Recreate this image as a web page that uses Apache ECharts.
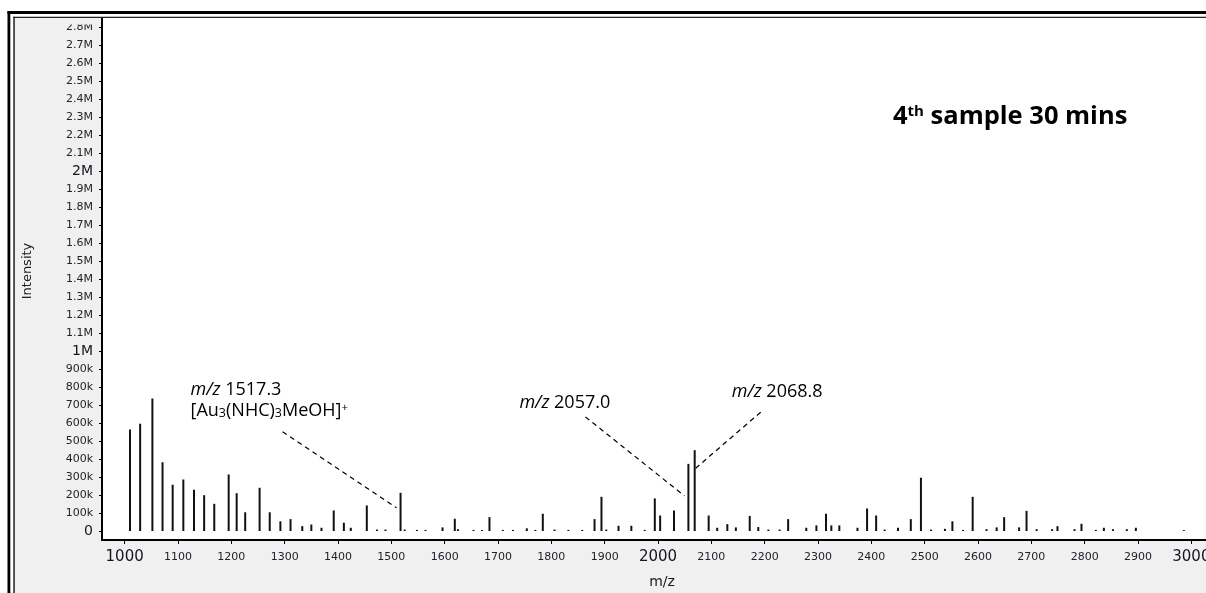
<!DOCTYPE html>
<html>
<head>
<meta charset="utf-8">
<script src="https://cdn.jsdelivr.net/npm/echarts@6/dist/echarts.min.js"></script>
<style>
  html, body { margin: 0; padding: 0; background: #ffffff; }
  #chart { width: 1206px; height: 593px; }
</style>
</head>
<body>
<div id="chart"></div>
<script>
// Centroided peaks of the spectrum: m/z and intensity (counts)
const peakMz = [
  1010, 1029, 1052, 1071, 1090, 1110, 1130, 1149, 1168, 1195,
  1210, 1226, 1253, 1272, 1292, 1311, 1333, 1350, 1369, 1392,
  1411, 1424, 1454, 1473, 1489, 1517.3, 1525, 1548, 1564, 1596,
  1619, 1625, 1654, 1670, 1684, 1709, 1728, 1754, 1770, 1784,
  1806, 1832, 1858, 1881, 1894, 1903, 1926, 1950, 1975, 1994,
  2004, 2030, 2057.0, 2068.8, 2095, 2111, 2130, 2146, 2172, 2188,
  2207, 2228, 2244, 2278, 2297, 2315, 2325, 2340, 2374, 2392,
  2409, 2425, 2450, 2474, 2493, 2512, 2538, 2552, 2572, 2590,
  2616, 2635, 2649, 2677, 2691, 2710, 2739, 2749, 2781, 2794,
  2821, 2836, 2853, 2879, 2896, 2986
];
const peakIntensity = [
  564000, 596000, 736000, 382000, 257000, 286000, 229000, 199000, 151000, 314000,
  210000, 104000, 240000, 104000, 54000, 66000, 27000, 36000, 18000, 114000,
  46000, 18000, 142000, 8000, 8000, 212000, 8000, 6000, 6000, 20000,
  68000, 10000, 6000, 6000, 77000, 6000, 6000, 15000, 6000, 96000,
  8000, 6000, 6000, 66000, 190000, 8000, 29000, 29000, 6000, 181000,
  86000, 114000, 373000, 449000, 86000, 18000, 38000, 20000, 84000, 22000,
  8000, 8000, 66000, 18000, 31000, 96000, 31000, 31000, 18000, 125000,
  86000, 8000, 18000, 66000, 296000, 8000, 12000, 54000, 6000, 190000,
  10000, 20000, 77000, 20000, 112000, 10000, 10000, 27000, 10000, 40000,
  6000, 18000, 10000, 10000, 18000, 5000
];

// Axis ticks
const mzTicks = [1000, 1100, 1200, 1300, 1400, 1500, 1600, 1700, 1800, 1900,
  2000, 2100, 2200, 2300, 2400, 2500, 2600, 2700, 2800, 2900, 3000];
const intensityTicks = [];
for (let i = 0; i <= 28; i++) intensityTicks.push(i * 100000);

// Annotated peaks
const annotatedMz = [1517.3, 2057.0, 2068.8];
const annotatedIon = ['[Au3(NHC)3MeOH]+', '', ''];

const chart = echarts.init(document.getElementById('chart'), null, { renderer: 'canvas' });

const LABEL_FONT = 'DejaVu Sans';
const NOTE_FONT = 'Open Sans';

function mzLabel(v) {
  return (v % 1000 === 0) ? '{big|' + v + '}' : '{small|' + v + '}';
}
function intensityLabel(v) {
  if (v === 0) return '{big|0}';
  if (v % 1000000 === 0) return '{big|' + (v / 1000000) + 'M}';
  if (v >= 1000000) return '{small|' + (v / 1000000).toFixed(1) + 'M}';
  return '{small|' + (v / 1000) + 'k}';
}

const option = {
  backgroundColor: '#f0f0f0',
  animation: false,
  grid: {
    left: 102, right: 0, top: 18, bottom: 53,
    outerBoundsMode: 'none', containLabel: false,
    show: true, backgroundColor: '#ffffff', borderWidth: 0
  },
  xAxis: {
    type: 'value',
    min: 957.5, max: 3027.5,
    axisLine: { show: true, onZero: false, lineStyle: { color: '#000', width: 2 } },
    axisTick: { show: true, customValues: mzTicks, length: 4, lineStyle: { color: '#000', width: 1 } },
    axisLabel: {
      customValues: mzTicks, margin: 17, verticalAlign: 'middle',
      showMinLabel: true, showMaxLabel: true, hideOverlap: false,
      formatter: mzLabel,
      rich: {
        big: { fontFamily: LABEL_FONT, fontSize: 15, lineHeight: 18, color: '#15151f' },
        small: { fontFamily: LABEL_FONT, fontSize: 11, lineHeight: 18, color: '#22222c' }
      }
    },
    splitLine: { show: false }
  },
  yAxis: {
    type: 'value',
    min: -50000, max: 2850000,
    axisLine: { show: true, onZero: false, lineStyle: { color: '#000', width: 2 } },
    axisTick: { show: true, customValues: intensityTicks, length: 3, lineStyle: { color: '#000', width: 1 } },
    axisLabel: {
      customValues: intensityTicks, margin: 9, align: 'right', verticalAlign: 'middle',
      formatter: intensityLabel,
      rich: {
        big: { fontFamily: LABEL_FONT, fontSize: 14, lineHeight: 14, color: '#15151f' },
        small: { fontFamily: LABEL_FONT, fontSize: 11, lineHeight: 14, color: '#22222c' }
      }
    },
    splitLine: { show: false }
  },
  series: [{
    type: 'bar',
    barWidth: 2,
    itemStyle: { color: '#111' },
    data: peakMz.map((m, i) => [m, peakIntensity[i]])
  }]
};
chart.setOption(option);

// Frame, axis titles, title and peak annotations
function buildGraphics() {
  const els = [];
  const W = 1206, H = 593;
  // white margin outside the frame
  els.push({ type: 'rect', shape: { x: 0, y: 0, width: 7.5, height: H }, style: { fill: '#fff' }, z: 100 });
  els.push({ type: 'rect', shape: { x: 0, y: 0, width: W, height: 11 }, style: { fill: '#fff' }, z: 100 });
  // thick outer frame
  els.push({ type: 'rect', shape: { x: 7.5, y: 11, width: 2.8, height: H }, style: { fill: '#000' }, z: 101 });
  els.push({ type: 'rect', shape: { x: 7.5, y: 11, width: W, height: 3 }, style: { fill: '#000' }, z: 101 });
  // white gap
  els.push({ type: 'rect', shape: { x: 10.3, y: 14, width: 3, height: H }, style: { fill: '#fff' }, z: 100 });
  els.push({ type: 'rect', shape: { x: 10.3, y: 14, width: W, height: 2.8 }, style: { fill: '#fff' }, z: 100 });
  // inner thin frame
  els.push({ type: 'rect', shape: { x: 13.3, y: 16.8, width: 1.5, height: H }, style: { fill: '#222' }, z: 101 });
  els.push({ type: 'rect', shape: { x: 13.3, y: 16.8, width: W, height: 1.3 }, style: { fill: '#222' }, z: 101 });
  // panel edge hides the upper part of the top tick label
  els.push({ type: 'rect', shape: { x: 15, y: 18.1, width: 86, height: 6.5 }, style: { fill: '#f0f0f0' }, z: 99 });

  // axis titles
  els.push({ type: 'text', x: 28, y: 271, rotation: Math.PI / 2, z: 50,
    style: { text: 'Intensity', font: '13px "DejaVu Sans"', fill: '#1a1a22', align: 'center', verticalAlign: 'middle' } });
  els.push({ type: 'text', x: 662, y: 582, z: 50,
    style: { text: 'm/z', font: '14px "DejaVu Sans"', fill: '#1a1a22', align: 'center', verticalAlign: 'middle' } });

  // title
  els.push({ type: 'text', x: 893, y: 117, z: 50,
    style: {
      text: '{n|4}{sup|th}{n| sample 30 mins}',
      verticalAlign: 'middle', align: 'left',
      rich: {
        n: { fontFamily: NOTE_FONT, fontWeight: 'bold', fontSize: 25.5, fill: '#000', verticalAlign: 'bottom' },
        sup: { fontFamily: NOTE_FONT, fontWeight: 'bold', fontSize: 15, fill: '#000', verticalAlign: 'top' }
      }
    } });

  // peak annotations: label block and dashed leader relative to each peak top
  const layout = [
    { text: [-210, -103], ion: [-210, -82], from: [-118, -61], to: [-4, 15] },
    { text: [-169, -61], ion: null, from: [-103, -47], to: [-4, 32] },
    { text: [37, -58], ion: null, from: [66, -38], to: [1, 18] }
  ];
  const noteRich = {
    it: { fontFamily: NOTE_FONT, fontStyle: 'italic', fontSize: 18, fill: '#000' },
    n: { fontFamily: NOTE_FONT, fontSize: 18, fill: '#000' },
    sm: { fontFamily: NOTE_FONT, fontSize: 12.5, fill: '#000', verticalAlign: 'bottom' },
    sup: { fontFamily: NOTE_FONT, fontSize: 11.5, fill: '#000', verticalAlign: 'top' }
  };
  annotatedMz.forEach((m, i) => {
    const idx = peakMz.indexOf(m);
    const p = chart.convertToPixel({ xAxisIndex: 0, yAxisIndex: 0 }, [m, peakIntensity[idx]]);
    const L = layout[i];
    els.push({ type: 'text', x: p[0] + L.text[0], y: p[1] + L.text[1], z: 50,
      style: { text: '{it|m/z}{n| ' + m.toFixed(1) + '}', rich: noteRich, align: 'left', verticalAlign: 'middle' } });
    if (annotatedIon[i]) {
      const ion = annotatedIon[i]
        .replace(/(\d)/g, '}{sm|$1}{n|')
        .replace(/\]\+$/, ']}{sup|+}');
      els.push({ type: 'text', x: p[0] + L.ion[0], y: p[1] + L.ion[1], z: 50,
        style: { text: '{n|' + ion, rich: noteRich, align: 'left', verticalAlign: 'middle' } });
    }
    els.push({ type: 'line', z: 50,
      shape: { x1: p[0] + L.from[0], y1: p[1] + L.from[1], x2: p[0] + L.to[0], y2: p[1] + L.to[1] },
      style: { stroke: '#000', lineWidth: 1.2, lineDash: [5, 4] } });
  });
  return els;
}
chart.setOption({ graphic: { elements: buildGraphics() } });
</script>
</body>
</html>
